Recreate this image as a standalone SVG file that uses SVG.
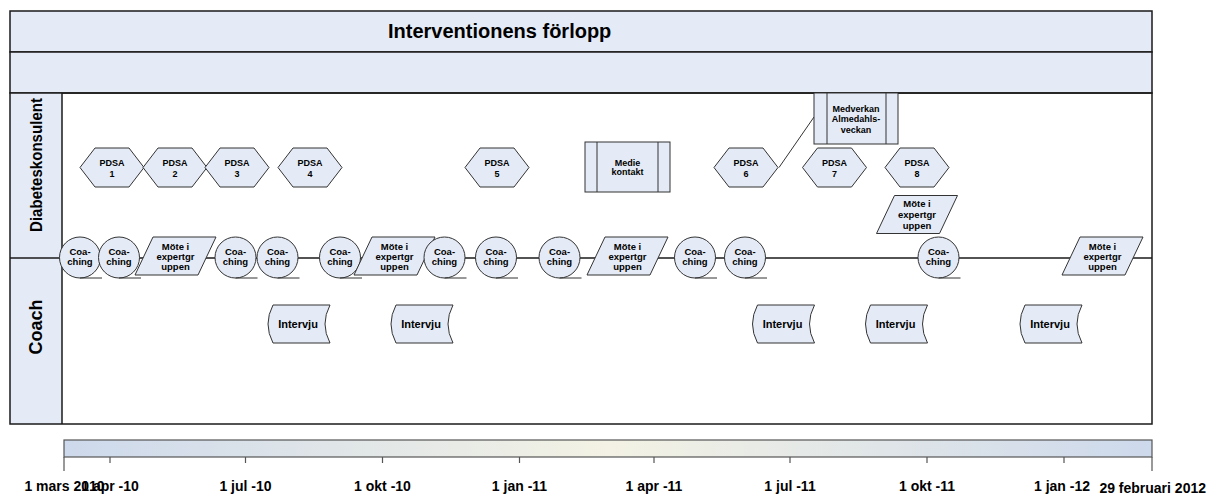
<svg xmlns="http://www.w3.org/2000/svg" xmlns:xlink="http://www.w3.org/1999/xlink" width="1214" height="494" viewBox="0 0 1214 494">
<style>
text{font-family:"Liberation Sans",Arial,Helvetica,sans-serif;font-weight:bold;fill:#000}
.frame{fill:none;stroke:#1a1a1a;stroke-width:1.5}
.band{fill:#E4EBF6;stroke:#1a1a1a;stroke-width:1.5}
.shape{fill:#E4EBF6;stroke:#333;stroke-width:1}
.ln{stroke:#333;stroke-width:1;fill:none}
.t9{font-size:9px;text-anchor:middle}
.t10{font-size:9.5px;text-anchor:middle}
.t11{font-size:11px;text-anchor:middle}
.ax{font-size:14px;text-anchor:middle}
.tick{stroke:#555;stroke-width:1.2}
</style>
<defs>
<polygon id="hex" class="shape" points="-32,0 -17,-19.5 17,-19.5 32,0 17,19.5 -17,19.5"/>
<polygon id="para" class="shape" points="-22.5,-19 40.5,-19 22.5,19 -40.5,19"/>
<g id="coach"><circle class="shape" r="20.5"/><line class="ln" x1="0" y1="20.5" x2="22" y2="20.5"/></g>
<path id="intv" class="shape" d="M-26,-19 L31,-19 Q21,0 31,19 L-26,19 Q-36,0 -26,-19 Z"/>
<linearGradient id="tg" x1="0" y1="0" x2="1" y2="0">
<stop offset="0" stop-color="#CDD9EC"/>
<stop offset="0.5" stop-color="#F3F2E4"/>
<stop offset="1" stop-color="#CDD9EC"/>
</linearGradient>
</defs>
<rect width="1214" height="494" fill="#fff"/>
<g id="pool">
<rect class="band" x="10" y="11" width="1142" height="41"/>
<rect class="band" x="10" y="52" width="1142" height="41"/>
<rect x="10" y="93" width="52" height="331" fill="#E4EBF6"/>
<rect class="frame" x="10" y="93" width="1142" height="331"/>
<line class="frame" x1="62" y1="93" x2="62" y2="424"/>
<line x1="10" y1="258" x2="1152" y2="258" stroke="#1a1a1a" stroke-width="1.3"/>
<text x="388" y="38" font-size="20">Interventionens förlopp</text>
<text transform="translate(42,165) rotate(-90)" font-size="17" text-anchor="middle" textLength="134" lengthAdjust="spacingAndGlyphs">Diabeteskonsulent</text>
<text transform="translate(42,327) rotate(-90)" font-size="18" text-anchor="middle">Coach</text>
</g>
<g id="connectors">
<line class="ln" x1="779" y1="167.5" x2="814" y2="117"/>
</g>
<g id="pdsa1"><use xlink:href="#hex" x="112" y="167.5"/><text class="t9" x="112" y="165.5">PDSA</text><text class="t9" x="112" y="176.5">1</text></g>
<g id="pdsa2"><use xlink:href="#hex" x="175" y="167.5"/><text class="t9" x="175" y="165.5">PDSA</text><text class="t9" x="175" y="176.5">2</text></g>
<g id="pdsa3"><use xlink:href="#hex" x="237" y="167.5"/><text class="t9" x="237" y="165.5">PDSA</text><text class="t9" x="237" y="176.5">3</text></g>
<g id="pdsa4"><use xlink:href="#hex" x="310" y="167.5"/><text class="t9" x="310" y="165.5">PDSA</text><text class="t9" x="310" y="176.5">4</text></g>
<g id="pdsa5"><use xlink:href="#hex" x="497" y="167.5"/><text class="t9" x="497" y="165.5">PDSA</text><text class="t9" x="497" y="176.5">5</text></g>
<g id="pdsa6"><use xlink:href="#hex" x="746" y="167.5"/><text class="t9" x="746" y="165.5">PDSA</text><text class="t9" x="746" y="176.5">6</text></g>
<g id="pdsa7"><use xlink:href="#hex" x="834.5" y="167.5"/><text class="t9" x="834.5" y="165.5">PDSA</text><text class="t9" x="834.5" y="176.5">7</text></g>
<g id="pdsa8"><use xlink:href="#hex" x="917" y="167.5"/><text class="t9" x="917" y="165.5">PDSA</text><text class="t9" x="917" y="176.5">8</text></g>
<g id="medie"><rect class="shape" x="585" y="142" width="85" height="50"/><line class="ln" x1="597" y1="142" x2="597" y2="192"/><line class="ln" x1="658" y1="142" x2="658" y2="192"/><text class="t9" x="627.5" y="165.5">Medie</text><text class="t9" x="627.5" y="175">kontakt</text></g>
<g id="medverkan"><rect class="shape" x="814" y="93" width="84" height="51"/><line class="ln" x1="827" y1="93" x2="827" y2="144"/><line class="ln" x1="886" y1="93" x2="886" y2="144"/><text class="t9" x="856" y="111.5">Medverkan</text><text class="t9" x="856" y="122">Almedahls-</text><text class="t9" x="856" y="132.5">veckan</text></g>
<g id="mote4"><use xlink:href="#para" x="917" y="214.5"/><text class="t10" x="917" y="207">Möte i</text><text class="t10" x="917" y="218">expertgr</text><text class="t10" x="917" y="229">uppen</text></g>
<g id="c1"><use xlink:href="#coach" x="80" y="257.5"/><text class="t10" x="80" y="254.5">Coa-</text><text class="t10" x="80" y="265">ching</text></g>
<g id="c2"><use xlink:href="#coach" x="119" y="257.5"/><text class="t10" x="119" y="254.5">Coa-</text><text class="t10" x="119" y="265">ching</text></g>
<g id="mote1"><use xlink:href="#para" x="175.5" y="256"/><text class="t10" x="175.5" y="249.5">Möte i</text><text class="t10" x="175.5" y="259.5">expertgr</text><text class="t10" x="175.5" y="269.5">uppen</text></g>
<g id="c3"><use xlink:href="#coach" x="235.5" y="257.5"/><text class="t10" x="235.5" y="254.5">Coa-</text><text class="t10" x="235.5" y="265">ching</text></g>
<g id="c4"><use xlink:href="#coach" x="277.5" y="257.5"/><text class="t10" x="277.5" y="254.5">Coa-</text><text class="t10" x="277.5" y="265">ching</text></g>
<g id="c5"><use xlink:href="#coach" x="340" y="257.5"/><text class="t10" x="340" y="254.5">Coa-</text><text class="t10" x="340" y="265">ching</text></g>
<g id="mote2"><use xlink:href="#para" x="394.5" y="256"/><text class="t10" x="394.5" y="249.5">Möte i</text><text class="t10" x="394.5" y="259.5">expertgr</text><text class="t10" x="394.5" y="269.5">uppen</text></g>
<g id="c6"><use xlink:href="#coach" x="444.5" y="257.5"/><text class="t10" x="444.5" y="254.5">Coa-</text><text class="t10" x="444.5" y="265">ching</text></g>
<g id="c7"><use xlink:href="#coach" x="496" y="257.5"/><text class="t10" x="496" y="254.5">Coa-</text><text class="t10" x="496" y="265">ching</text></g>
<g id="c8"><use xlink:href="#coach" x="559.5" y="257.5"/><text class="t10" x="559.5" y="254.5">Coa-</text><text class="t10" x="559.5" y="265">ching</text></g>
<g id="mote3"><use xlink:href="#para" x="627.5" y="256"/><text class="t10" x="627.5" y="249.5">Möte i</text><text class="t10" x="627.5" y="259.5">expertgr</text><text class="t10" x="627.5" y="269.5">uppen</text></g>
<g id="c9"><use xlink:href="#coach" x="695" y="257.5"/><text class="t10" x="695" y="254.5">Coa-</text><text class="t10" x="695" y="265">ching</text></g>
<g id="c10"><use xlink:href="#coach" x="745" y="257.5"/><text class="t10" x="745" y="254.5">Coa-</text><text class="t10" x="745" y="265">ching</text></g>
<g id="c11"><use xlink:href="#coach" x="938.5" y="257.5"/><text class="t10" x="938.5" y="254.5">Coa-</text><text class="t10" x="938.5" y="265">ching</text></g>
<g id="mote5"><use xlink:href="#para" x="1102.5" y="256"/><text class="t10" x="1102.5" y="249.5">Möte i</text><text class="t10" x="1102.5" y="259.5">expertgr</text><text class="t10" x="1102.5" y="269.5">uppen</text></g>
<g id="i1"><use xlink:href="#intv" x="299" y="324"/><text class="t11" x="298" y="328">Intervju</text></g>
<g id="i2"><use xlink:href="#intv" x="422" y="324"/><text class="t11" x="421" y="328">Intervju</text></g>
<g id="i3"><use xlink:href="#intv" x="783.5" y="324"/><text class="t11" x="782.5" y="328">Intervju</text></g>
<g id="i4"><use xlink:href="#intv" x="896.5" y="324"/><text class="t11" x="895.5" y="328">Intervju</text></g>
<g id="i5"><use xlink:href="#intv" x="1051" y="324"/><text class="t11" x="1050" y="328">Intervju</text></g>
<g id="timeline">
<rect x="64" y="440" width="1088" height="17" fill="url(#tg)" stroke="#555" stroke-width="1.2"/>
<line class="tick" x1="64" y1="457" x2="64" y2="471"/>
<line class="tick" x1="1152" y1="457" x2="1152" y2="471"/>
<line class="tick" x1="110" y1="457" x2="110" y2="463"/>
<line class="tick" x1="245.5" y1="457" x2="245.5" y2="463"/>
<line class="tick" x1="382.5" y1="457" x2="382.5" y2="463"/>
<line class="tick" x1="519.5" y1="457" x2="519.5" y2="463"/>
<line class="tick" x1="654" y1="457" x2="654" y2="463"/>
<line class="tick" x1="790" y1="457" x2="790" y2="463"/>
<line class="tick" x1="927" y1="457" x2="927" y2="463"/>
<line class="tick" x1="1064" y1="457" x2="1064" y2="463"/>
<text class="ax" x="64.5" y="491">1 mars 2010</text>
<text class="ax" x="110" y="491">1 apr -10</text>
<text class="ax" x="245.5" y="491">1 jul -10</text>
<text class="ax" x="382.5" y="491">1 okt -10</text>
<text class="ax" x="519.5" y="491">1 jan -11</text>
<text class="ax" x="654" y="491">1 apr -11</text>
<text class="ax" x="790" y="491">1 jul -11</text>
<text class="ax" x="927" y="491">1 okt -11</text>
<text class="ax" x="1062" y="491">1 jan -12</text>
<text x="1206" y="493" font-size="14" text-anchor="end">29 februari 2012</text>
</g>
</svg>
